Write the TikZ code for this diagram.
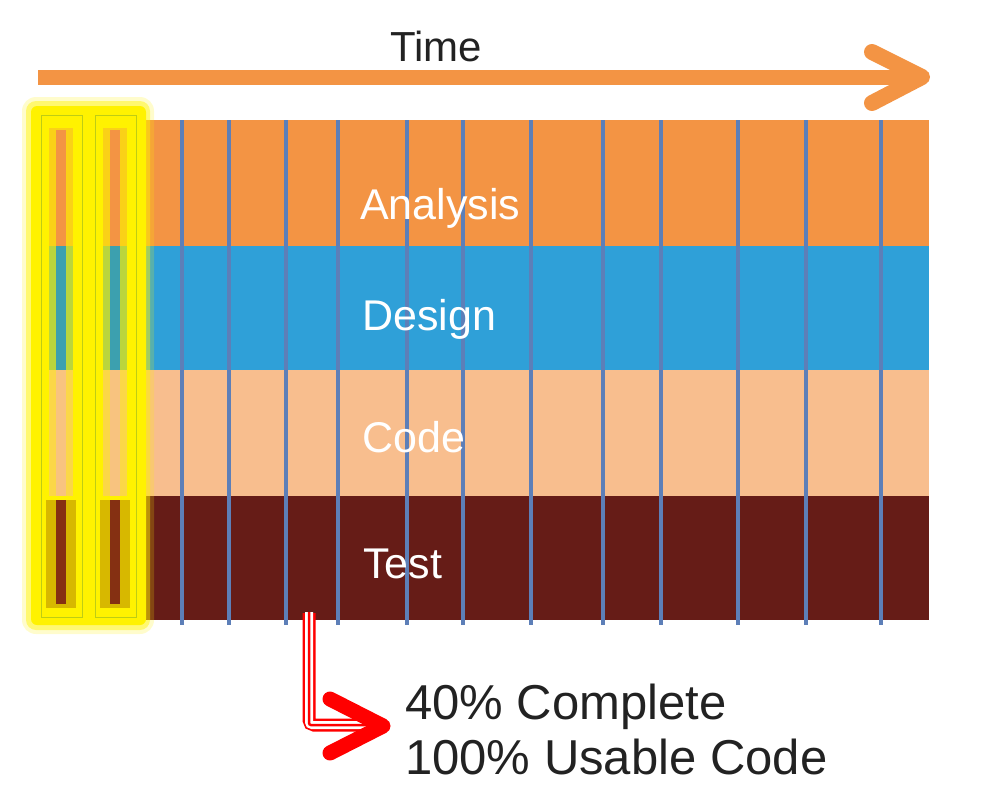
\documentclass[tikz,border=0pt]{standalone}
\usepackage{fontspec}
\setmainfont{Liberation Sans}
\definecolor{cOrange}{RGB}{243,148,68}
\definecolor{cBlue}{RGB}{47,160,216}
\definecolor{cPeach}{RGB}{248,190,142}
\definecolor{cBrown}{RGB}{102,28,23}
\definecolor{cVline}{RGB}{93,127,184}
\definecolor{cTeal}{RGB}{60,160,175}
\definecolor{cOlive}{RGB}{205,170,0}
\definecolor{cRim}{RGB}{190,205,20}
\definecolor{cText}{RGB}{34,34,34}
\tikzset{
  band/.style={inner sep=0pt, outer sep=0pt, minimum width=889pt, anchor=north west},
  bandlabel/.style={text=white, anchor=base west, inner sep=0pt, font=\fontsize{43}{48}\selectfont},
  vline/.style={draw=cVline, line width=4pt},
  botlabel/.style={text=cText, anchor=base west, inner sep=0pt, font=\fontsize{49}{55}\selectfont},
}
\begin{document}
\begin{tikzpicture}[x=1pt,y=-1pt]
\useasboundingbox (0,0) rectangle (989,801);
% bands
\node[band, fill=cOrange, minimum height=126pt] (analysis) at (40,120) {};
\node[band, fill=cBlue, minimum height=124pt] (design) at (40,246) {};
\node[band, fill=cPeach, minimum height=126pt] (code) at (40,370) {};
\node[band, fill=cBrown, minimum height=124pt] (test) at (40,496) {};
% vertical lines
\foreach \x in {182,229,286,338,407,463,531,603,661,738,806,881}
  \draw[vline] (\x,120) -- (\x,625);
% yellow highlight glow
\fill[yellow, opacity=0.2, rounded corners=14pt] (22,97) rectangle (154,634);
\fill[yellow, opacity=0.45, rounded corners=10pt] (26,101) rectangle (150,630);
\fill[yellow, rounded corners=6pt] (31,106) rectangle (146,625);
% columns
\foreach \c in {61,115}{
  % halos
  \fill[cOrange, opacity=0.35] (\c-12,128) rectangle (\c+12,246);
  \fill[cTeal, opacity=0.35] (\c-12,246) rectangle (\c+12,370);
  \fill[cPeach, opacity=0.5] (\c-12,370) rectangle (\c+12,496);
  \fill[cOlive, opacity=0.8] (\c-15,500) rectangle (\c+15,608);
  % strips
  \fill[cOrange] (\c-5,130) rectangle (\c+5,246);
  \fill[cTeal] (\c-5,246) rectangle (\c+5,370);
  \fill[cPeach, opacity=0.8] (\c-5,370) rectangle (\c+5,496);
  \fill[cBrown!80!orange] (\c-5,500) rectangle (\c+5,604);
  \draw[cRim, line width=0.8pt] (\c-20,115) rectangle (\c+21,617);
}
% labels
\node[bandlabel] (lana) at (360,219) {Analysis};
\node[bandlabel] (ldes) at (362,330) {Design};
\node[bandlabel] (lcod) at (362,452) {Code};
\node[bandlabel] (ltes) at (363,578) {Test};
% time arrow
\coordinate (tstart) at (38,77);
\coordinate (tend) at (918,77);
\coordinate (tup) at (872,52);
\coordinate (tlo) at (872,103);
\coordinate (ttip) at (922,77);
\draw[cOrange, line width=15pt] (tstart) -- (tend);
\draw[cOrange, line width=16pt, line cap=round, line join=round] (tup) -- (ttip) -- (tlo);
\node[anchor=base west, inner sep=0pt, text=cText, font=\fontsize{42}{48}\selectfont] (time) at (390,61) {Time};
% bottom text
\node[botlabel] (l40) at (405,719) {40\% Complete};
\node[botlabel] (l100) at (405,774) {100\% Usable Code};
% red arrow
\coordinate (rstart) at (309,613);
\coordinate (rcorner) at (309,725);
\coordinate (rend) at (372,725);
\coordinate (rup) at (330,699);
\coordinate (rlo) at (330,753);
\coordinate (rtip) at (383,726);
\draw[red, line width=13pt, rounded corners=5pt] (rstart) -- (rcorner) -- (rend);
\draw[white, line width=8pt, rounded corners=3pt] ([yshift=1pt]rstart) -- (rcorner) -- (rend);
\draw[red, line width=2.5pt, rounded corners=2pt] ([yshift=1pt]rstart) -- (rcorner) -- (rend);
\draw[red, line width=15pt, line cap=round, line join=round] (rup) -- (rtip) -- (rlo);
\end{tikzpicture}
\end{document}
